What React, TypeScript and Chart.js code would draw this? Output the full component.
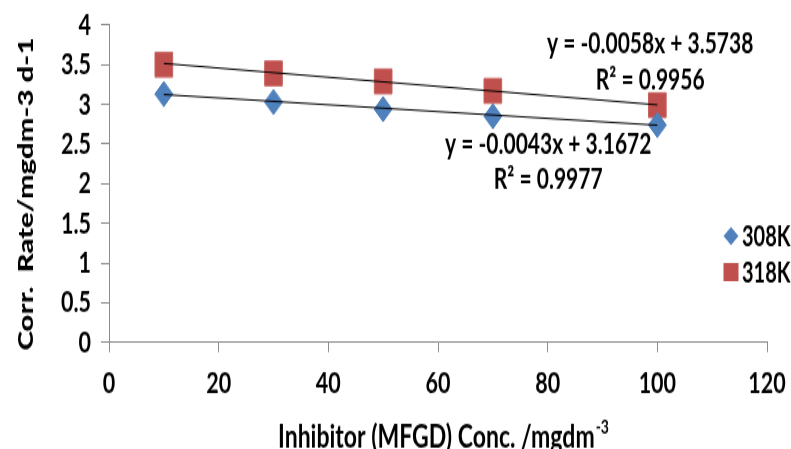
import React, { useEffect, useRef } from 'react';
import { Chart, registerables } from 'chart.js';

Chart.register(...registerables);

const xValues = [10, 30, 50, 70, 100];
const rate308 = [3.13, 3.03, 2.94, 2.85, 2.74];
const rate318 = [3.5, 3.39, 3.29, 3.17, 2.99];
const trendX = [10, 100];
const trend308 = [3.124, 2.737];
const trend318 = [3.516, 2.994];
const seriesNames = ['308K', '318K'];
const eqText308 = ['y = -0.0043x + 3.1672', 'R² = 0.9977'];
const eqText318 = ['y = -0.0058x + 3.5738', 'R² = 0.9956'];
const xTitle = 'Inhibitor (MFGD) Conc. /mgdm';
const xTitleSup = '-3';
const yTitle = 'Corr.  Rate/mgdm-3 d-1';

const BLUE = '#4F81BD';
const RED = '#C0504D';
const AXIS = '#8C8C8C';
const FONT = 'Lato, "Liberation Sans", sans-serif';

const W = 791;
const H = 321;
const STRETCH = 449 / H;

const overlayPlugin = {
  id: 'overlay',
  afterDraw(chart: any) {
    const { ctx } = chart;
    const xs = chart.scales.x;
    const ys = chart.scales.y;
    ctx.save();
    ctx.fillStyle = '#000';
    ctx.textAlign = 'center';
    ctx.textBaseline = 'middle';
    ctx.font = `bold 21px ${FONT}`;
    const eqs = [
      { text: eqText318, x: 98.7, y: [3.77, 3.31] },
      { text: eqText308, x: 80.1, y: [2.49, 2.05] },
    ];
    eqs.forEach((e) => {
      e.text.forEach((t, i) => {
        ctx.fillText(t, xs.getPixelForValue(e.x), ys.getPixelForValue(e.y[i]));
      });
    });

    // legend
    const legendRows = [168.7, 194.5];
    ctx.textAlign = 'left';
    ctx.font = `bold 20px ${FONT}`;
    seriesNames.forEach((name, i) => {
      const cy = legendRows[i];
      const cx = 731;
      ctx.fillStyle = i === 0 ? BLUE : RED;
      ctx.beginPath();
      if (i === 0) {
        ctx.moveTo(cx - 7.5, cy);
        ctx.lineTo(cx, cy - 6.5);
        ctx.lineTo(cx + 7.5, cy);
        ctx.lineTo(cx, cy + 6.5);
        ctx.closePath();
      } else {
        ctx.rect(cx - 7.5, cy - 6.5, 15, 13);
      }
      ctx.fill();
      ctx.fillStyle = '#000';
      ctx.fillText(name, 742, cy + 1);
    });

    // y title
    ctx.save();
    ctx.translate(26, 138.7);
    ctx.rotate(-Math.PI / 2);
    ctx.textAlign = 'center';
    ctx.font = `900 21px ${FONT}`;
    ctx.fillText(yTitle, 0, 0);
    ctx.restore();

    // x title with superscript
    ctx.font = `bold 23px ${FONT}`;
    const w1 = ctx.measureText(xTitle).width;
    ctx.font = `bold 14px ${FONT}`;
    const w2 = ctx.measureText(xTitleSup).width;
    const start = 443 - (w1 + w2) / 2;
    ctx.textAlign = 'left';
    ctx.textBaseline = 'alphabetic';
    ctx.font = `bold 23px ${FONT}`;
    ctx.fillText(xTitle, start, 319.5);
    ctx.font = `bold 14px ${FONT}`;
    ctx.fillText(xTitleSup, start + w1 + 1, 310);
    ctx.restore();
  },
};

export default function App() {
  const ref = useRef<HTMLCanvasElement | null>(null);
  useEffect(() => {
    document.body.style.margin = '0';
    const canvas = ref.current!;
    const chart = new Chart(canvas, {
      type: 'scatter',
      data: {
        datasets: [
          {
            label: 'trend308',
            data: trendX.map((x, i) => ({ x, y: trend308[i] })),
            showLine: true,
            borderColor: '#000',
            borderWidth: 1,
            pointRadius: 0,
            order: 0,
          },
          {
            label: 'trend318',
            data: trendX.map((x, i) => ({ x, y: trend318[i] })),
            showLine: true,
            borderColor: '#000',
            borderWidth: 1,
            pointRadius: 0,
            order: 0,
          },
          {
            label: seriesNames[0],
            data: xValues.map((x, i) => ({ x, y: rate308[i] })),
            pointStyle: 'rectRot',
            pointRadius: 9,
            backgroundColor: BLUE,
            borderColor: BLUE,
            borderWidth: 1,
            order: 1,
          },
          {
            label: seriesNames[1],
            data: xValues.map((x, i) => ({ x, y: rate318[i] })),
            pointStyle: 'rect',
            pointRadius: 12.5,
            backgroundColor: RED,
            borderColor: '#C86460',
            borderWidth: 1,
            order: 1,
          },
        ],
      },
      options: {
        responsive: false,
        animation: false,
        devicePixelRatio: 1,
        layout: { padding: { top: 17.9, right: 24, left: 0, bottom: 0 } },
        plugins: {
          legend: { display: false },
          tooltip: { enabled: false },
          title: { display: false },
        },
        scales: {
          x: {
            type: 'linear',
            min: 0,
            max: 120,
            ticks: {
              stepSize: 20,
              autoSkip: false,
              maxRotation: 0,
              color: '#000',
              font: { family: FONT, size: 21.5, weight: 'bold' },
              padding: 9,
              callback: (v: any) => String(v),
            },
            grid: { display: true, drawOnChartArea: false, drawTicks: true, tickLength: 7, color: AXIS },
            border: { display: true, color: AXIS, width: 1 },
            afterFit: (s: any) => {
              s.height = H - 244.7;
              s.paddingLeft = 0;
              s.paddingRight = 0;
            },
          },
          y: {
            type: 'linear',
            min: 0,
            max: 4,
            ticks: {
              stepSize: 0.5,
              autoSkip: false,
              color: '#000',
              font: { family: FONT, size: 21.5, weight: 'bold', lineHeight: 1 },
              padding: 10,
              callback: (v: any) => String(v),
            },
            grid: { display: true, drawOnChartArea: false, drawTicks: true, tickLength: 8, color: AXIS },
            border: { display: true, color: AXIS, width: 1 },
            afterFit: (s: any) => {
              s.width = 109;
              s.paddingTop = 0;
              s.paddingBottom = 0;
            },
          },
        },
      },
      plugins: [overlayPlugin],
    } as any);
    return () => chart.destroy();
  }, []);

  return (
    <div
      style={{
        position: 'absolute',
        left: 0,
        top: 0,
        width: W,
        height: 449,
        overflow: 'hidden',
        background: '#fff',
      }}
    >
      <canvas
        ref={ref}
        width={W}
        height={H}
        style={{
          display: 'block',
          width: W,
          height: H,
          transform: `scaleY(${STRETCH})`,
          transformOrigin: '0 0',
        }}
      />
    </div>
  );
}
